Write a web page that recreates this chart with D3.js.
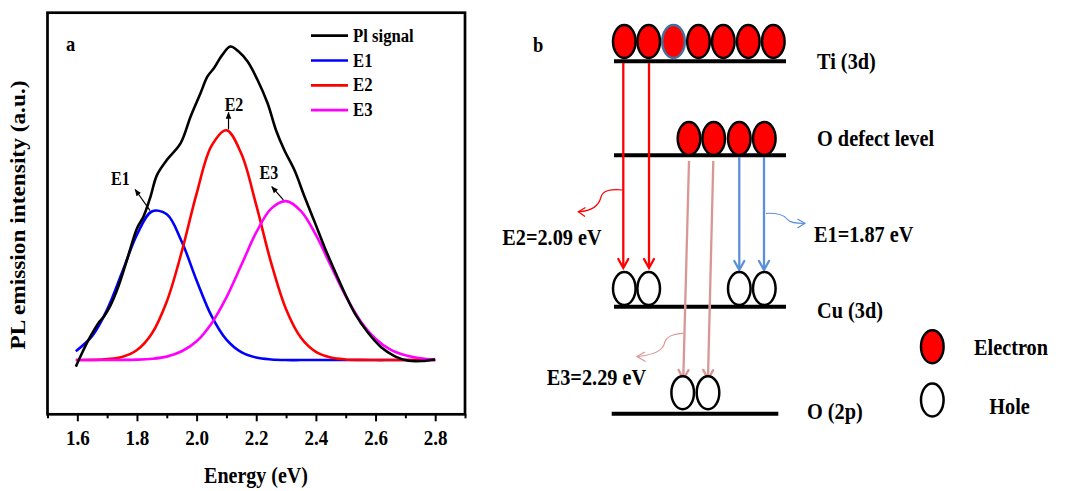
<!DOCTYPE html>
<html>
<head>
<meta charset="utf-8">
<script src="https://cdn.jsdelivr.net/npm/d3@7/dist/d3.min.js"></script>
<style>
  html, body { margin: 0; padding: 0; background: #fff; }
  svg { display: block; }
  text { font-family: "Liberation Serif", "Times New Roman", serif; font-weight: bold; fill: #000; }
</style>
</head>
<body>
<svg id="fig" width="1074" height="491"></svg>
<script>
// ---- (a) PL spectrum: measured signal ----
const signalEnergy = [1.595, 1.615, 1.643, 1.670, 1.690, 1.710, 1.735, 1.766, 1.800, 1.822, 1.845, 1.867,
  1.900, 1.946, 1.980, 2.013, 2.036, 2.058, 2.085, 2.113, 2.140, 2.171, 2.204, 2.238, 2.266, 2.294,
  2.328, 2.362, 2.396, 2.429, 2.463, 2.497, 2.530, 2.575, 2.620, 2.665, 2.710, 2.755, 2.800];
const signalIntensity = [-0.021, 0.021, 0.074, 0.117, 0.140, 0.172, 0.228, 0.318, 0.420, 0.458, 0.520, 0.590,
  0.638, 0.691, 0.777, 0.851, 0.904, 0.931, 0.972, 1.000, 0.985, 0.952, 0.894, 0.819, 0.734, 0.670,
  0.606, 0.521, 0.440, 0.360, 0.285, 0.213, 0.150, 0.087, 0.040, 0.012, -0.002, -0.003, 0.002];

// ---- fitted components ----
const fitEnergy = [1.595, 1.65, 1.70, 1.75, 1.80, 1.85, 1.90, 1.95, 2.00, 2.05, 2.10, 2.15, 2.20,
  2.25, 2.30, 2.35, 2.40, 2.45, 2.50, 2.55, 2.60, 2.65, 2.70, 2.75, 2.80];
const fitE1 = [0.028, 0.077, 0.161, 0.279, 0.400, 0.474, 0.465, 0.378, 0.254, 0.141, 0.065, 0.025, 0.008,
  0.002, 0, 0, 0, 0, 0, 0, 0, 0, 0, 0, 0];
const fitE2 = [0.0001, 0.0006, 0.003, 0.010, 0.032, 0.085, 0.187, 0.345, 0.531, 0.683, 0.733, 0.658, 0.494,
  0.310, 0.162, 0.071, 0.026, 0.008, 0.002, 0.0005, 0, 0, 0, 0, 0];
const fitE3 = [0, 0, 0.0001, 0.0004, 0.0013, 0.004, 0.011, 0.028, 0.060, 0.117, 0.200, 0.303, 0.407,
  0.483, 0.507, 0.475, 0.399, 0.301, 0.204, 0.124, 0.068, 0.033, 0.015, 0.006, 0.002];

const seriesNames = ["Pl signal", "E1", "E2", "E3"];
const xTickValues = [1.6, 1.8, 2.0, 2.2, 2.4, 2.6, 2.8];
const xMinorTicks = [1.5, 1.7, 1.9, 2.1, 2.3, 2.5, 2.7, 2.9];
const peakNames = ["E1", "E2", "E3"];
const peakEnergies = [1.87, 2.09, 2.29];

// ---- (b) band diagram ----
const levelNames = ["Ti (3d)", "O defect level", "Cu (3d)", "O (2p)"];
const carrierNames = ["Electron", "Hole"];

const VS = 1.15; // text is drawn slightly tall
const svg = d3.select("#fig");

function label(g, str, px, py, size, anchor) {
  return g.append("text")
    .attr("transform", `translate(${px},${py}) scale(1,${VS})`)
    .attr("font-size", size)
    .attr("text-anchor", anchor || "start")
    .text(str);
}

const defs = svg.append("defs");
defs.append("marker").attr("id", "tri")
  .attr("viewBox", "0 0 10 10").attr("refX", 9).attr("refY", 5)
  .attr("markerUnits", "userSpaceOnUse").attr("markerWidth", 7).attr("markerHeight", 7)
  .attr("orient", "auto")
  .append("path").attr("d", "M0,1 L10,5 L0,9 Z").attr("fill", "#000");

// ================= panel (a) =================
const x = d3.scaleLinear().domain([1.5, 2.9]).range([47.5, 465]);
const y = d3.scaleLinear().domain([-0.173, 1.108]).range([414.3, 12.7]);

const pa = svg.append("g");
const line = d3.line().x(d => x(d[0])).y(d => y(d[1])).curve(d3.curveCatmullRom.alpha(0.5));

const series = [
  { name: "E1", color: "#0000ff", pts: d3.zip(fitEnergy, fitE1) },
  { name: "E2", color: "#ff0000", pts: d3.zip(fitEnergy, fitE2) },
  { name: "E3", color: "#ff00ff", pts: d3.zip(fitEnergy, fitE3) },
  { name: "Pl signal", color: "#000000", pts: d3.zip(signalEnergy, signalIntensity) }
];
pa.selectAll("path.curve").data(series).join("path")
  .attr("class", "curve")
  .attr("d", d => line(d.pts))
  .attr("fill", "none")
  .attr("stroke", d => d.color)
  .attr("stroke-width", 2.6)
  .attr("stroke-linejoin", "round");

// frame
pa.append("rect")
  .attr("x", x.range()[0]).attr("y", y.range()[1])
  .attr("width", x.range()[1] - x.range()[0]).attr("height", y.range()[0] - y.range()[1])
  .attr("fill", "none").attr("stroke", "#000").attr("stroke-width", 2.7);

// bottom axis: minor then major ticks
const gMinor = pa.append("g").attr("transform", `translate(0,${y.range()[0]})`)
  .call(d3.axisBottom(x).tickValues(xMinorTicks).tickSize(4).tickFormat(""));
const gMajor = pa.append("g").attr("transform", `translate(0,${y.range()[0]})`)
  .call(d3.axisBottom(x).tickValues(xTickValues).tickSize(7).tickFormat(d3.format(".1f")));
[gMinor, gMajor].forEach(g => {
  g.select(".domain").remove();
  g.selectAll(".tick line").attr("stroke", "#000").attr("stroke-width", 2);
});
gMajor.selectAll(".tick text")
  .attr("y", null).attr("dy", null)
  .attr("transform", `translate(0,31) scale(1,${VS})`)
  .attr("font-size", 19)
  .style("font-family", "'Liberation Serif', 'Times New Roman', serif")
  .style("font-weight", "bold")
  .attr("fill", "#000");

// axis titles
label(pa, "Energy (eV)", 256, 483, 20, "middle");
pa.append("text")
  .attr("transform", `translate(25,215) rotate(-90) scale(${VS},1)`)
  .attr("font-size", 20.3).attr("text-anchor", "middle")
  .text("PL emission intensity (a.u.)");

label(pa, "a", 66, 51, 18.5);

// legend
const legColor = { "Pl signal": "#000000", "E1": "#0000ff", "E2": "#ff0000", "E3": "#ff00ff" };
seriesNames.forEach((name, i) => {
  const ly = 35.7 + i * 24.8;
  pa.append("line").attr("x1", 311).attr("x2", 348).attr("y1", ly).attr("y2", ly)
    .attr("stroke", legColor[name]).attr("stroke-width", 2.7);
  label(pa, name, 353, ly + 6, 16.7);
});

// peak annotations (arrow from the curve toward the label)
const annot = [
  { from: [1.844, 0.4765], to: [1.794, 0.544], lab: [1.713, 0.5585] },
  { from: [2.107, 0.736], to: [2.107, 0.790], lab: [2.094, 0.795] },
  { from: [2.291, 0.511], to: [2.252, 0.553], lab: [2.211, 0.578] }
];
annot.forEach((a, i) => {
  pa.append("line")
    .attr("x1", x(a.from[0])).attr("y1", y(a.from[1]))
    .attr("x2", x(a.to[0])).attr("y2", y(a.to[1]))
    .attr("stroke", "#000").attr("stroke-width", 1.2)
    .attr("marker-end", "url(#tri)");
  label(pa, peakNames[i], x(a.lab[0]), y(a.lab[1]), 16);
});

// ================= panel (b) =================
const pb = svg.append("g");
const levelY = d3.scaleOrdinal().domain(levelNames).range([61.3, 155.3, 306.7, 413.7]);
const RED = "#ff0000", BLUE = "#5b8fd8", PINK = "#d99694";

label(pb, "b", 533, 52, 18.5);

// level bars
const barSpan = { "Ti (3d)": [614, 786], "O defect level": [614, 786], "Cu (3d)": [614, 786], "O (2p)": [611.7, 778.3] };
levelNames.forEach(n => {
  pb.append("line").attr("x1", barSpan[n][0]).attr("x2", barSpan[n][1])
    .attr("y1", levelY(n)).attr("y2", levelY(n))
    .attr("stroke", "#000").attr("stroke-width", 4);
});

// level labels
const levelLabelPos = { "Ti (3d)": [817, 68.5], "O defect level": [817, 146], "Cu (3d)": [817, 318], "O (2p)": [807, 418.5] };
levelNames.forEach(n => label(pb, n, levelLabelPos[n][0], levelLabelPos[n][1], 20.3));

// transitions (straight arrows) - drawn before the carriers
function vArrow(x1, y1, x2, y2, color, w) {
  pb.append("line").attr("x1", x1).attr("y1", y1).attr("x2", x2).attr("y2", y2 - 1)
    .attr("stroke", color).attr("stroke-width", w);
  const ang = Math.atan2(y2 - y1, x2 - x1);
  const L = 9, hw = 5;
  const bx = x2 - L * Math.cos(ang), by = y2 - L * Math.sin(ang);
  const nx = -Math.sin(ang), ny = Math.cos(ang);
  pb.append("path")
    .attr("d", `M${bx + nx * hw},${by + ny * hw} L${x2},${y2} L${bx - nx * hw},${by - ny * hw}`)
    .attr("fill", "none").attr("stroke", color).attr("stroke-width", w)
    .attr("stroke-linecap", "round").attr("stroke-linejoin", "miter");
}
[623.3, 649].forEach(cx => vArrow(cx, 63, cx, 268, RED, 2.3));
[739.3, 764].forEach(cx => vArrow(cx, 157, cx, 270, BLUE, 2.3));
vArrow(689, 161, 683.3, 379, PINK, 2.3);
vArrow(713.3, 161, 708, 379, PINK, 2.3);

// curly energy-release arrows
function curly(d, tip, back1, back2, color) {
  pb.append("path").attr("d", d).attr("fill", "none").attr("stroke", color).attr("stroke-width", 1.2);
  pb.append("path").attr("d", `M${back1[0]},${back1[1]} L${tip[0]},${tip[1]} L${back2[0]},${back2[1]}`)
    .attr("fill", "none").attr("stroke", color).attr("stroke-width", 1.2);
}
curly("M623,190 C611,189 603,190 601,197 C599,205 592,211 579,211.7", [578.3, 211.7], [585.5, 207.5], [585, 216.5], RED);
curly("M766,213.3 C778,213 784,215 787,219 C790,223 796,223.3 804,223.3", [805, 223.3], [797.5, 219], [797.5, 228], BLUE);
curly("M683.3,333.3 C671,334 666,337 664.5,343 C663,351 652,355 638,356.5", [637, 356.5], [645, 352], [645.5, 361.5], PINK);

// energy labels
label(pb, `E2=${peakEnergies[1].toFixed(2)} eV`, 601.7, 245, 20.3, "end");
label(pb, `E1=${peakEnergies[0].toFixed(2)} eV`, 814, 241.7, 20.3);
label(pb, `E3=${peakEnergies[2].toFixed(2)} eV`, 546.7, 385, 20.3);

// carriers
function carrier(cx, cy, filled, stroke) {
  pb.append("ellipse").attr("cx", cx).attr("cy", cy).attr("rx", 11.3).attr("ry", 16.5)
    .attr("fill", filled ? "#ff0000" : "#ffffff")
    .attr("stroke", stroke || "#000").attr("stroke-width", 2.5);
}
[624.3, 648.7, 673.5, 698.5, 723.3, 748.3, 773.3].forEach((cx, i) => carrier(cx, 41.5, true, i === 2 ? "#41719c" : "#000"));
[689, 713.7, 739.3, 764.3].forEach(cx => carrier(cx, 138.5, true));
[624.3, 648.7, 739.3, 764.3].forEach(cx => carrier(cx, 288.5, false));
[682.7, 708].forEach(cx => carrier(cx, 392.7, false));

// pink transitions pass over the Cu (3d) bar
pb.append("line").attr("x1", 689 - 5.7 * (306.7 - 161) / 218).attr("x2", 689 - 5.7 * (306.7 - 161) / 218)
  .attr("y1", 304.7).attr("y2", 308.7).attr("stroke", PINK).attr("stroke-width", 2.3);
pb.append("line").attr("x1", 713.3 - 5.3 * (306.7 - 161) / 218).attr("x2", 713.3 - 5.3 * (306.7 - 161) / 218)
  .attr("y1", 304.7).attr("y2", 308.7).attr("stroke", PINK).attr("stroke-width", 2.3);

// key
carrier(932.3, 346.7, true);
carrier(932.3, 400, false);
label(pb, carrierNames[0], 974, 355, 20.3);
label(pb, carrierNames[1], 989.3, 414, 20.3);
</script>
</body>
</html>
